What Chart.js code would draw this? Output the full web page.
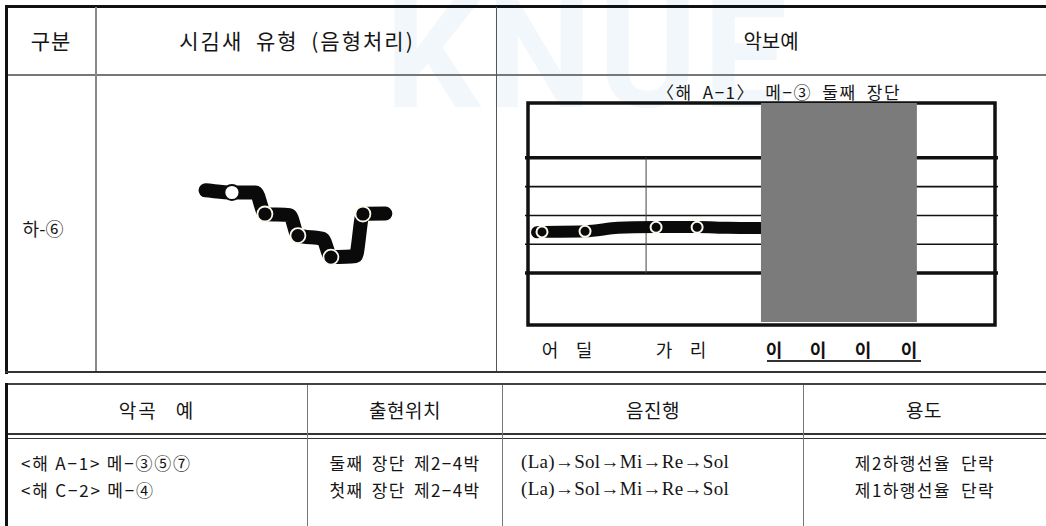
<!DOCTYPE html>
<html>
<head>
<meta charset="utf-8">
<script src="https://cdn.jsdelivr.net/npm/chart.js@4.4.1/dist/chart.umd.min.js"></script>
<style>
  body { margin: 0; width: 1046px; height: 526px; background: #fff; position: relative; overflow: hidden;
         font-family: "Noto Sans CJK KR", "Noto Sans", sans-serif; color: #151515; }
  .ln { position: absolute; background: #222; }
  .t { position: absolute; white-space: nowrap; transform: translate(-50%, -50%); }
  .tl { position: absolute; white-space: nowrap; transform: translate(0, -50%); }
  .mark { position: absolute; left: 385px; top: -32px; font: bold 150px Roboto, sans-serif;
          color: rgba(170, 205, 228, 0.16); letter-spacing: 6px; }
  .serif { font-family: 'Liberation Serif', 'DejaVu Serif', serif; }
  canvas { position: absolute; }
</style>
</head>
<body>
<div class="mark">KNUE</div>

<!-- 위 표 -->
<div class="ln" style="left:5px;top:5px;width:1041px;height:3px;background:#111"></div>
<div class="ln" style="left:5px;top:5px;width:3px;height:369px;background:#111"></div>
<div class="ln" style="left:8px;top:74px;width:1038px;height:2px;background:#777"></div>
<div class="ln" style="left:95px;top:7px;width:2px;height:366px;background:#888"></div>
<div class="ln" style="left:496px;top:7px;width:1px;height:366px;background:#555"></div>
<div class="ln" style="left:5px;top:371px;width:1041px;height:2px;background:#333"></div>

<div class="t" style="left:51px;top:40px;font-size:21px;letter-spacing:1px">구분</div>
<div class="t" style="left:297px;top:40px;font-size:21px;letter-spacing:2px;word-spacing:6px">시김새 유형 (음형처리)</div>
<div class="t" style="left:771px;top:40px;font-size:20px">악보예</div>
<div class="t" style="left:43px;top:228px;font-size:18px">하-⑥</div>
<div class="t" style="left:779px;top:91px;font-size:17px;letter-spacing:1.5px;word-spacing:5px">〈해 A−1〉 메−③ 둘째 장단</div>

<!-- 가사 -->
<div class="t" style="left:550px;top:349px;font-size:18px">어</div>
<div class="t" style="left:584px;top:349px;font-size:18px">딜</div>
<div class="t" style="left:664px;top:349px;font-size:18px">가</div>
<div class="t" style="left:698px;top:349px;font-size:18px">리</div>
<div class="t" style="left:774px;top:349px;font-size:18px;font-weight:bold;color:#111">이</div>
<div class="t" style="left:818px;top:349px;font-size:18px;font-weight:bold;color:#111">이</div>
<div class="t" style="left:863px;top:349px;font-size:18px;font-weight:bold;color:#111">이</div>
<div class="t" style="left:909px;top:349px;font-size:18px;font-weight:bold;color:#111">이</div>
<div class="ln" style="left:767px;top:360px;width:154px;height:2px;background:#333"></div>

<!-- 아래 표 -->
<div class="ln" style="left:5px;top:383px;width:1041px;height:2px;background:#444"></div>
<div class="ln" style="left:5px;top:383px;width:3px;height:143px;background:#111"></div>
<div class="ln" style="left:8px;top:433px;width:1038px;height:2px;background:#333"></div>
<div class="ln" style="left:8px;top:438px;width:1038px;height:1px;background:#333"></div>
<div class="ln" style="left:307px;top:385px;width:1px;height:141px;background:#777"></div>
<div class="ln" style="left:502px;top:385px;width:1px;height:141px;background:#777"></div>
<div class="ln" style="left:803px;top:385px;width:1px;height:141px;background:#777"></div>

<div class="t" style="left:157px;top:409px;font-size:19px;letter-spacing:2px;word-spacing:12px">악곡 예</div>
<div class="t" style="left:405px;top:409px;font-size:19px;letter-spacing:0.5px">출현위치</div>
<div class="t" style="left:653px;top:409px;font-size:19px;letter-spacing:0.5px">음진행</div>
<div class="t" style="left:924px;top:409px;font-size:19px;letter-spacing:0.5px">용도</div>

<div class="tl" style="left:21px;top:462px;font-size:17px;letter-spacing:1.8px">&lt;해 A−1&gt; 메−③⑤⑦</div>
<div class="tl" style="left:21px;top:489px;font-size:17px;letter-spacing:1.8px">&lt;해 C−2&gt; 메−④</div>
<div class="t" style="left:405px;top:462px;font-size:17px;letter-spacing:1.4px;word-spacing:3px">둘째 장단 제2−4박</div>
<div class="t" style="left:405px;top:489px;font-size:17px;letter-spacing:1.4px;word-spacing:3px">첫째 장단 제2−4박</div>
<div class="tl serif" style="left:521px;top:462px;font-size:19px;letter-spacing:0.3px">(La)→Sol→Mi→Re→Sol</div>
<div class="tl serif" style="left:521px;top:489px;font-size:19px;letter-spacing:0.3px">(La)→Sol→Mi→Re→Sol</div>
<div class="t" style="left:925px;top:462px;font-size:17px;letter-spacing:1.4px;word-spacing:5px">제2하행선율 단락</div>
<div class="t" style="left:925px;top:489px;font-size:17px;letter-spacing:1.4px;word-spacing:5px">제1하행선율 단락</div>

<canvas id="neume" width="260" height="130" style="left:160px;top:160px"></canvas>
<canvas id="staff" width="500" height="240" style="left:510px;top:95px"></canvas>

<script>
// 시김새 음형: 음 위치 (0=Re, 1=Mi, 2=Sol, 3=La)
var neumeX = [-0.8, 0, 0.72, 1, 1.75, 2, 2.75, 3, 3.75, 3.97, 4.65];
var neumeY = [3.1, 3, 3, 2, 1.95, 1, 0.85, 0, 0.05, 2, 2.02];
var neumeDots = [0, 1, 0, 2, 0, 2, 0, 2, 0, 2, 0]; // 1 = 흰 원, 2 = 검은 점

// 악보예: 오선 (1..5), 선율선, 음표
var staffLines = [1, 2, 3, 4, 5];
var barLine = 3.54;
var melodyX = [0.27, 0.42, 1.71, 2.7, 3.84, 5.07, 6.0, 7.3];
var melodyY = [2.42, 2.43, 2.45, 2.57, 2.6, 2.6, 2.57, 2.56];
var notesX = [0.42, 1.71, 3.84, 5.07];
var notesY = [2.43, 2.45, 2.59, 2.59];
var shadeX = [6.98, 11.66];
var shadeTop = 6.9;
var shadeBottom = -0.7;

function pts(xs, ys) {
  var out = [];
  for (var i = 0; i < xs.length; i++) out.push({ x: xs[i], y: ys[i] });
  return out;
}

// 시김새 그림
new Chart(document.getElementById('neume'), {
  type: 'scatter',
  data: {
    datasets: [{
      data: pts(neumeX, neumeY),
      showLine: true,
      borderColor: '#0a0a0a',
      borderWidth: 14,
      borderCapStyle: 'round',
      borderJoinStyle: 'round',
      cubicInterpolationMode: 'monotone',
      pointRadius: neumeDots.map(function (d) { return d ? 7.5 : 0; }),
      pointBackgroundColor: neumeDots.map(function (d) { return d == 1 ? '#fff' : '#0a0a0a'; }),
      pointBorderColor: neumeDots.map(function (d) { return d == 1 ? '#0a0a0a' : '#fdf8ec'; }),
      pointBorderWidth: 1.8,
      clip: false
    }]
  },
  options: {
    responsive: false,
    animation: false,
    layout: { padding: 0 },
    plugins: { legend: { display: false }, tooltip: { enabled: false } },
    scales: {
      x: { type: 'linear', display: false, min: -2.18, max: 5.70 },
      y: { type: 'linear', display: false, min: -1.53, max: 4.51 }
    }
  }
});

// 오선, 테두리, 세로줄
var staffPlugin = {
  id: 'staffLines',
  beforeDatasetsDraw: function (chart) {
    var ctx = chart.ctx, a = chart.chartArea;
    var xs = chart.scales.x, ys = chart.scales.y;
    ctx.save();
    ctx.strokeStyle = '#111';
    staffLines.forEach(function (v, i) {
      var y = ys.getPixelForValue(v);
      ctx.lineWidth = (i == 0 || i == staffLines.length - 1) ? 3.5 : 1.6;
      ctx.beginPath();
      ctx.moveTo(a.left - 3, y);
      ctx.lineTo(a.right + 3, y);
      ctx.stroke();
    });
    var bx = xs.getPixelForValue(barLine);
    ctx.lineWidth = 1;
    ctx.strokeStyle = '#444';
    ctx.beginPath();
    ctx.moveTo(bx, ys.getPixelForValue(staffLines[staffLines.length - 1]));
    ctx.lineTo(bx, ys.getPixelForValue(staffLines[0]));
    ctx.stroke();
    ctx.lineWidth = 3.5;
    ctx.strokeStyle = '#111';
    ctx.strokeRect(a.left, a.top, a.right - a.left, a.bottom - a.top);
    ctx.restore();
  }
};

new Chart(document.getElementById('staff'), {
  type: 'scatter',
  data: {
    datasets: [{
      data: pts(shadeX, [shadeTop, shadeTop]),
      showLine: true,
      borderWidth: 0,
      pointRadius: 0,
      backgroundColor: '#7b7b7b',
      fill: { value: shadeBottom },
      order: 0,
      clip: false
    }, {
      data: pts(notesX, notesY),
      showLine: false,
      pointRadius: 5.5,
      pointBackgroundColor: '#0a0a0a',
      pointBorderColor: '#fdf8ec',
      pointBorderWidth: 2,
      order: 1
    }, {
      data: pts(melodyX, melodyY),
      showLine: true,
      borderColor: '#0a0a0a',
      borderWidth: 12,
      borderCapStyle: 'round',
      cubicInterpolationMode: 'monotone',
      pointRadius: 0,
      order: 2
    }]
  },
  options: {
    responsive: false,
    animation: false,
    layout: { padding: { left: 18, right: 15, top: 8, bottom: 10 } },
    plugins: { legend: { display: false }, tooltip: { enabled: false } },
    scales: {
      x: { type: 'linear', display: false, min: 0, max: 14 },
      y: { type: 'linear', display: false, min: -0.8, max: 6.9 }
    }
  },
  plugins: [staffPlugin]
});
</script>
</body>
</html>
